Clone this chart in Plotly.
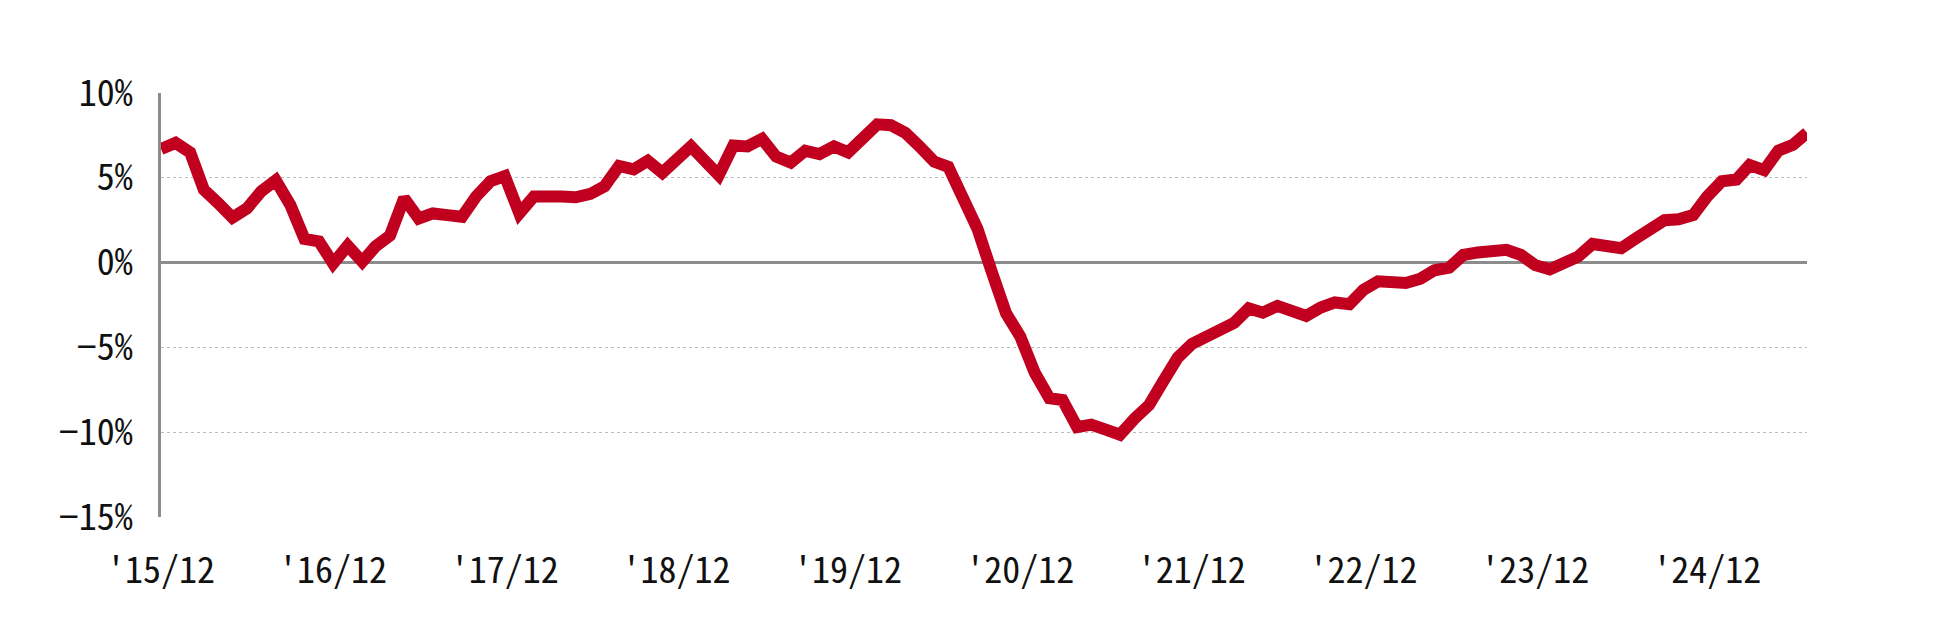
import pandas as pd
import plotly.graph_objects as go

months = pd.date_range("2015-12-01", periods=116, freq="MS")

values = [
    6.7, 7.06, 6.5, 4.3, 3.5, 2.65, 3.2, 4.2, 4.85, 3.4, 1.4, 1.25,
    -0.05, 1.0, 0.05, 0.95, 1.6, 3.8, 2.6, 2.9, 2.8, 2.7, 3.9, 4.8,
    5.1, 2.9, 3.9, 3.95, 3.9, 3.85, 4.05, 4.5, 5.7, 5.5, 6.0, 5.3,
    6.1, 6.85, 5.95, 5.15, 6.9, 6.85, 7.3, 6.25, 5.9, 6.6, 6.4, 6.85,
    6.5, 7.4, 8.15, 8.1, 7.65, 6.85, 5.95, 5.65, 3.75, 2.0, -0.5, -3.0,
    -4.35, -6.5, -8.0, -8.1, -9.7, -9.55, -9.85, -10.15, -9.2, -8.4, -7.0, -5.6,
    -4.8, -4.35, -3.95, -3.55, -2.7, -2.95, -2.55, -2.8, -3.15, -2.65, -2.35, -2.45,
    -1.6, -1.1, -1.1, -1.2, -0.95, -0.45, -0.3, 0.45, 0.6, 0.65, 0.75, 0.45,
    -0.15, -0.4, -0.1, 0.35, 1.1, 0.9, 0.85, 1.4, 1.85, 2.5, 2.55, 2.8,
    3.9, 4.8, 4.9, 5.75, 5.45, 6.6, 6.95, 7.65,
]

x_tick_dates = pd.date_range("2015-12-01", periods=10, freq="12MS")
x_tick_labels = ["'15/12", "'16/12", "'17/12", "'18/12", "'19/12",
                 "'20/12", "'21/12", "'22/12", "'23/12", "'24/12"]

y_tick_vals = [10, 5, 0, -5, -10, -15]
y_tick_labels = ["10%", "5%", "0%", "−5%", "−10%", "−15%"]

FONT = "Noto Sans Mono CJK JP, Noto Sans CJK JP, DejaVu Sans Mono"

fig = go.Figure()
fig.add_trace(go.Scatter(
    x=months, y=values, mode="lines",
    line=dict(color="#C0001E", width=12),
    hoverinfo="skip",
))

fig.update_layout(
    width=1934, height=621,
    margin=dict(l=153, r=135, t=85, b=112),
    paper_bgcolor="white", plot_bgcolor="white",
    showlegend=False,
    font=dict(family=FONT, size=36, color="#111111"),
)
fig.update_xaxes(
    range=[months[0], months[-1]],
    tickmode="array", tickvals=x_tick_dates, ticktext=x_tick_labels,
    showgrid=False, showline=False, zeroline=False, ticks="",
    ticklabelstandoff=29,
    tickfont=dict(family=FONT, size=36, color="#111111"),
)
fig.update_yaxes(
    range=[-15, 10],
    tickmode="array", tickvals=y_tick_vals, ticktext=y_tick_labels,
    showgrid=True, gridcolor="#BDBDBD", griddash="dot", gridwidth=1,
    zeroline=True, zerolinecolor="#8C8C8C", zerolinewidth=3,
    showline=True, linecolor="#8C8C8C", linewidth=3,
    ticks="", ticklabelstandoff=18,
    tickfont=dict(family=FONT, size=36, color="#111111"),
)

fig.write_html("out.html")
